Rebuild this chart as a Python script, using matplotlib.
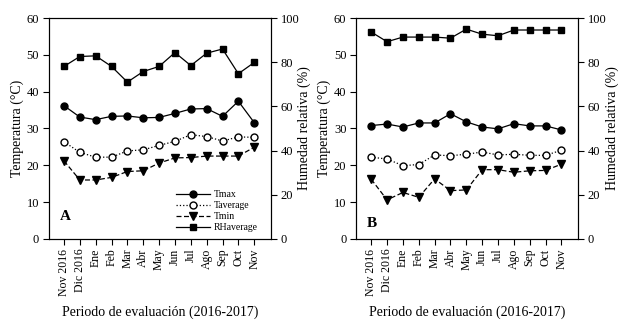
import matplotlib
matplotlib.use("Agg")
import matplotlib.pyplot as plt
import numpy as np

plt.rcParams['font.family'] = ['Liberation Serif', 'DejaVu Serif']

meses = ["Nov 2016", "Dic 2016", "Ene", "Feb", "Mar", "Abr", "May",
         "Jun", "Jul", "Ago", "Sep", "Oct", "Nov"]

# panel A
tmax_a = [36.2, 33.1, 32.4, 33.3, 33.4, 32.9, 33.0, 34.1, 35.3, 35.4, 33.3, 37.4, 31.6]
tavg_a = [26.4, 23.5, 22.2, 22.2, 23.9, 24.2, 25.4, 26.5, 28.3, 27.8, 26.6, 27.7, 27.6]
tmin_a = [21.2, 16.0, 16.0, 16.7, 18.3, 18.5, 20.6, 22.0, 22.1, 22.5, 22.5, 22.5, 24.9]
rh_a = [78.1, 82.6, 82.9, 78.1, 71.0, 75.8, 78.1, 84.4, 78.5, 84.1, 86.0, 74.8, 79.9]

# panel B
tmax_b = [30.8, 31.2, 30.4, 31.5, 31.5, 34.0, 31.8, 30.4, 29.9, 31.3, 30.7, 30.7, 29.6]
tavg_b = [22.2, 21.7, 19.9, 20.2, 22.8, 22.6, 23.0, 23.6, 22.8, 23.0, 22.7, 22.7, 24.1]
tmin_b = [16.2, 10.6, 12.6, 11.3, 16.3, 13.1, 13.3, 18.8, 18.8, 18.1, 18.5, 18.6, 20.3]
rh_b = [93.7, 89.3, 91.4, 91.4, 91.4, 90.9, 95.0, 92.7, 92.0, 94.6, 94.6, 94.6, 94.6]

x = np.arange(len(meses))

fig = plt.figure(figsize=(6.27, 3.35), dpi=100)


def panel(rect, tmax, tavg, tmin, rh, letra, leyenda):
    ax = fig.add_axes(rect)
    ax2 = ax.twinx()
    ms = 5
    l1, = ax.plot(x, tmax, '-', color='k', lw=0.9, marker='o', ms=ms, label='Tmax')
    l2, = ax.plot(x, tavg, ':', color='k', lw=0.9, marker='o', ms=ms, mfc='white',
                  label='Taverage')
    l3, = ax.plot(x, tmin, color='k', lw=0.9, ls=(0, (4, 2)), marker='v', ms=ms + 0.5,
                  label='Tmin')
    l4, = ax2.plot(x, rh, '-', color='k', lw=0.9, marker='s', ms=ms, label='RHaverage')
    ax.set_xlim(-0.95, 13.05)
    ax.set_ylim(0, 60)
    ax2.set_ylim(0, 100)
    ax.set_yticks(range(0, 61, 10))
    ax2.set_yticks(range(0, 101, 20))
    ax.set_xticks(x)
    ax.set_xticklabels(meses, rotation=90, fontsize=8.5)
    ax.tick_params(axis='y', labelsize=9, direction='out', length=4, pad=3)
    ax.tick_params(axis='x', direction='out', length=4, pad=3)
    ax2.tick_params(axis='y', labelsize=9, direction='out', length=4, pad=3)
    ax.set_ylabel('Temperatura (°C)', fontsize=10, labelpad=2)
    ax2.set_ylabel('Humedad relativa (%)', fontsize=10, labelpad=-1)
    ax.set_xlabel('Periodo de evaluación (2016-2017)', fontsize=10, labelpad=7)
    ax.text(0.05, 0.1 if leyenda else 0.07, letra, transform=ax.transAxes,
            fontsize=11, fontweight='bold', va='center')
    for s in ax.spines.values():
        s.set_linewidth(0.8)
    for s in ax2.spines.values():
        s.set_linewidth(0.8)
    if leyenda:
        ax.legend(handles=[l1, l2, l3, l4], loc='lower right', frameon=False,
                  fontsize=7, handlelength=3.4, borderaxespad=0.3,
                  labelspacing=0.2, handletextpad=0.4,
                  bbox_to_anchor=(0.97, 0.0))


panel([0.078, 0.287, 0.354, 0.659], tmax_a, tavg_a, tmin_a, rh_a, 'A', True)
panel([0.568, 0.287, 0.354, 0.659], tmax_b, tavg_b, tmin_b, rh_b, 'B', False)

fig.savefig('out.png', dpi=100)
